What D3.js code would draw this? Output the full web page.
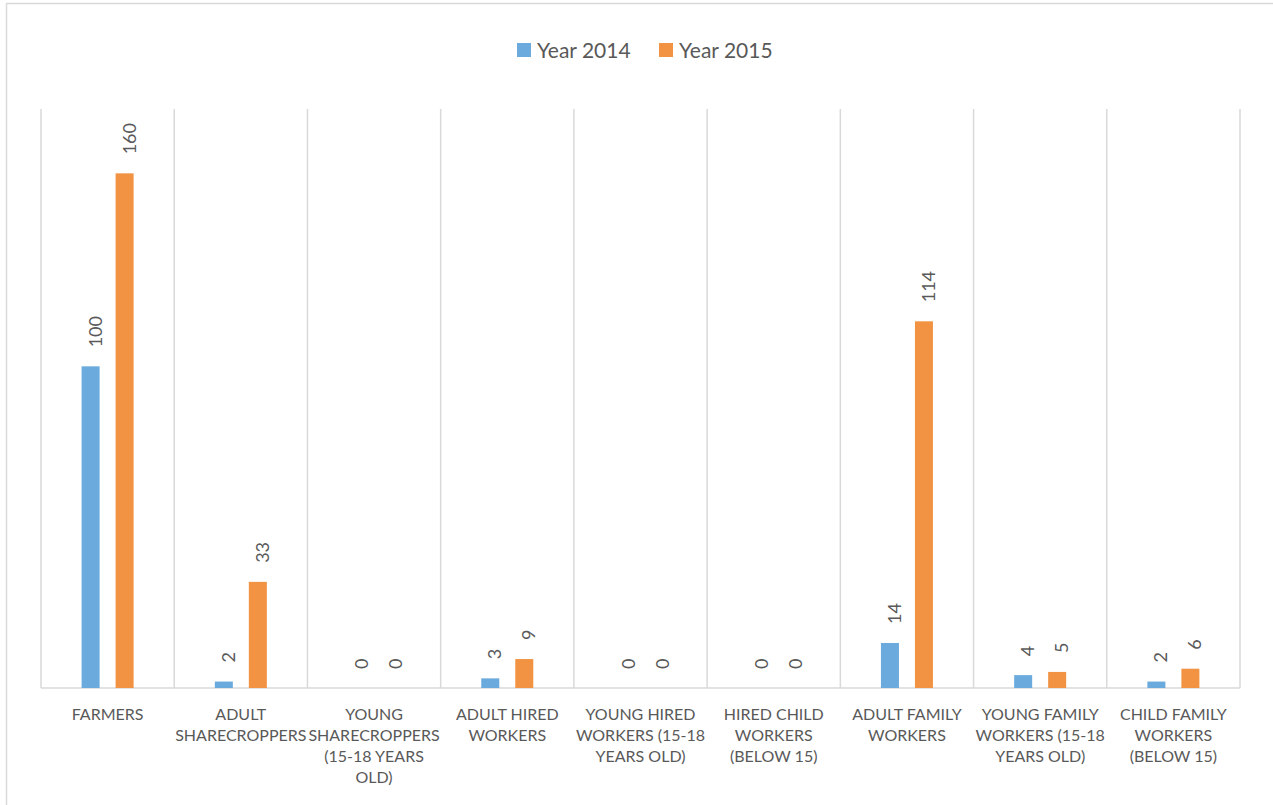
<!DOCTYPE html>
<html>
<head>
<meta charset="utf-8">
<script src="https://cdn.jsdelivr.net/npm/d3@7"></script>
<style>
  html, body { margin: 0; padding: 0; background: #fff; }
  svg { display: block; font-family: Lato, "Open Sans", sans-serif; }
</style>
</head>
<body>
<div id="chart"></div>
<script>
// categories (line breaks as shown under the axis)
const categories = [
  ['FARMERS'],
  ['ADULT', 'SHARECROPPERS'],
  ['YOUNG', 'SHARECROPPERS', '(15-18 YEARS', 'OLD)'],
  ['ADULT HIRED', 'WORKERS'],
  ['YOUNG HIRED', 'WORKERS (15-18', 'YEARS OLD)'],
  ['HIRED CHILD', 'WORKERS', '(BELOW 15)'],
  ['ADULT FAMILY', 'WORKERS'],
  ['YOUNG FAMILY', 'WORKERS (15-18', 'YEARS OLD)'],
  ['CHILD FAMILY', 'WORKERS', '(BELOW 15)']
];
const seriesNames = ['Year 2014', 'Year 2015'];
const year2014 = [100, 2, 0, 3, 0, 0, 14, 4, 2];
const year2015 = [160, 33, 0, 9, 0, 0, 114, 5, 6];
const colors = ['#6aaadc', '#f29343'];
const yMax = 180;

const W = 1273, H = 805;
const margin = {top: 109, right: 33, bottom: 117, left: 41};
const innerW = W - margin.left - margin.right;
const innerH = H - margin.top - margin.bottom;
const textColor = '#595959';
const gridColor = '#d9d9d9';

const svg = d3.select('#chart').append('svg')
  .attr('width', W)
  .attr('height', H);

// chart frame (only left and top edges are visible)
svg.append('line').attr('x1', 6.5).attr('x2', 6.5).attr('y1', 3).attr('y2', H)
  .attr('stroke', gridColor).attr('stroke-width', 1.5);
svg.append('line').attr('x1', 6).attr('x2', W).attr('y1', 3.5).attr('y2', 3.5)
  .attr('stroke', gridColor).attr('stroke-width', 1.5);

const g = svg.append('g')
  .attr('transform', `translate(${margin.left}, ${margin.top})`);

const idx = d3.range(categories.length);
const x = d3.scaleBand().domain(idx).range([0, innerW]).padding(0);
const y = d3.scaleLinear().domain([0, yMax]).range([innerH, 0]);

const barW = 18, barGap = 16;

// vertical separators between categories
g.append('g')
  .selectAll('line')
  .data(d3.range(categories.length + 1))
  .join('line')
  .attr('x1', d => d === categories.length ? innerW : x(d))
  .attr('x2', d => d === categories.length ? innerW : x(d))
  .attr('y1', 0)
  .attr('y2', innerH)
  .attr('stroke', gridColor)
  .attr('stroke-width', 1.5);

// baseline
g.append('line')
  .attr('x1', 0).attr('x2', innerW)
  .attr('y1', innerH).attr('y2', innerH)
  .attr('stroke', gridColor).attr('stroke-width', 1.5);

const series = [year2014, year2015];
series.forEach((vals, s) => {
  const grp = g.append('g');
  const bx = i => x(i) + x.bandwidth() / 2 + (s === 0 ? -barW - barGap / 2 : barGap / 2);

  grp.selectAll('rect')
    .data(vals)
    .join('rect')
    .attr('x', (d, i) => bx(i))
    .attr('width', barW)
    .attr('y', d => y(d))
    .attr('height', d => innerH - y(d))
    .attr('fill', colors[s]);

  // rotated value labels
  grp.selectAll('text')
    .data(vals)
    .join('text')
    .attr('transform', (d, i) => `translate(${bx(i) + barW / 2 + 11}, ${y(d) - 19}) rotate(-90)`)
    .attr('text-anchor', 'start')
    .attr('fill', textColor)
    .style('font-size', '18px')
    .text(d => d);
});

// category labels
const xAxis = g.append('g').attr('transform', `translate(0, ${innerH})`);
categories.forEach((lines, i) => {
  const t = xAxis.append('text')
    .attr('x', x(i) + x.bandwidth() / 2)
    .attr('y', 32)
    .attr('text-anchor', 'middle')
    .attr('fill', textColor)
    .style('font-size', '16px');
  lines.forEach((ln, k) => {
    t.append('tspan')
      .attr('x', x(i) + x.bandwidth() / 2)
      .attr('dy', k === 0 ? 0 : 21)
      .text(ln);
  });
});

// legend
const legendX = [517, 659];
const legend = svg.append('g');
seriesNames.forEach((name, s) => {
  legend.append('rect')
    .attr('x', legendX[s]).attr('y', 43)
    .attr('width', 14).attr('height', 14)
    .attr('fill', colors[s]);
  legend.append('text')
    .attr('x', legendX[s] + 20).attr('y', 58)
    .attr('fill', textColor)
    .style('font-size', '21px')
    .text(name);
});
</script>
</body>
</html>
